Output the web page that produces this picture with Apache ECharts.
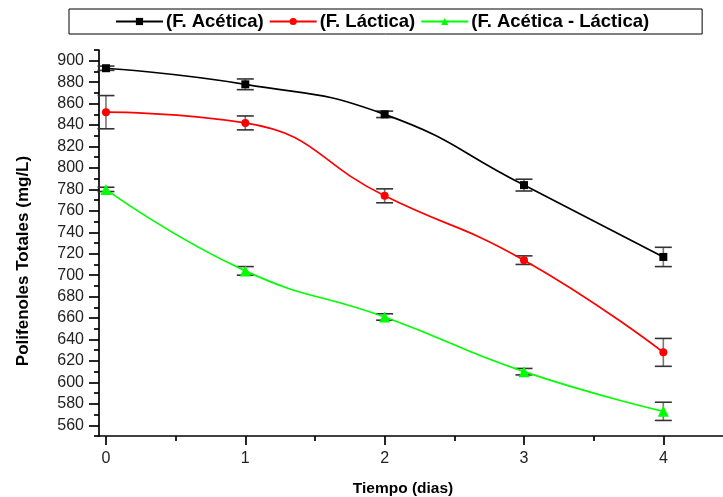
<!DOCTYPE html>
<html>
<head>
<meta charset="utf-8">
<script src="https://cdn.jsdelivr.net/npm/echarts@6/dist/echarts.min.js"></script>
<style>
  html, body { margin: 0; padding: 0; background: #fff; }
  #chart { width: 723px; height: 497px; }
</style>
</head>
<body>
<div id="chart"></div>
<script>
// Days of fermentation
const dias = [0, 1, 2, 3, 4];

// Total polyphenols (mg/L) and standard deviations
const aceticaValores = [893, 878, 850, 784, 717];
const aceticaError   = [2, 5, 3, 5.5, 9];
const lacticaValores = [852, 842, 774, 714, 628];
const lacticaError   = [15.5, 6.5, 6.5, 4, 13];
const mixtaValores   = [780, 704, 661, 610, 573];
const mixtaError     = [2, 4, 3, 3, 8.5];

const nombres = ['(F. Acética)', '(F. Láctica)', '(F. Acética - Láctica)'];
const colores = ['#000000', '#ff0000', '#00ff00'];
const simbolos = ['rect', 'circle', 'triangle'];

// Axis tick positions
const xEtiquetas = [0, 1, 2, 3, 4];
const xMenores = [0.5, 1.5, 2.5, 3.5, 4.5];
const yEtiquetas = [560, 580, 600, 620, 640, 660, 680, 700, 720, 740, 760, 780, 800, 820, 840, 860, 880, 900];
const yMenores = [550, 570, 590, 610, 630, 650, 670, 690, 710, 730, 750, 770, 790, 810, 830, 850, 870, 890, 910];

const FONT = 'Liberation Sans, Arial, sans-serif';

function pares(vals) { return dias.map((d, i) => [d, vals[i]]); }
function paresErr(vals, errs) { return dias.map((d, i) => [d, vals[i], errs[i]]); }

// Vertical error bar with caps
function barraError(params, api) {
  const x = api.value(0), y = api.value(1), e = api.value(2);
  const a = api.coord([x, y + e]);
  const b = api.coord([x, y - e]);
  const w = 8.5;
  const st = { stroke: '#777', lineWidth: 1.6 };
  const sc = { stroke: '#333', lineWidth: 1.6 };
  return {
    type: 'group',
    children: [
      { type: 'line', shape: { x1: a[0], y1: a[1], x2: b[0], y2: b[1] }, style: st },
      { type: 'line', shape: { x1: a[0] - w, y1: a[1], x2: a[0] + w, y2: a[1] }, style: sc },
      { type: 'line', shape: { x1: b[0] - w, y1: b[1], x2: b[0] + w, y2: b[1] }, style: sc }
    ]
  };
}

const valores = [aceticaValores, lacticaValores, mixtaValores];
const errores = [aceticaError, lacticaError, mixtaError];

const series = [];
valores.forEach((v, i) => {
  series.push({
    type: 'custom',
    name: nombres[i] + ' err',
    xAxisIndex: 0, yAxisIndex: 0,
    renderItem: barraError,
    data: paresErr(v, errores[i]),
    z: 1,
    silent: true
  });
});
valores.forEach((v, i) => {
  series.push({
    type: 'line',
    name: nombres[i],
    xAxisIndex: 0, yAxisIndex: 0,
    data: pares(v),
    smooth: 0.5,
    symbol: simbolos[i],
    symbolSize: i === 2 ? 11 : 8,
    showSymbol: true,
    lineStyle: { color: colores[i], width: 1.7 },
    itemStyle: { color: colores[i] },
    z: 3
  });
});

const option = {
  backgroundColor: '#fff',
  animation: false,
  grid: { left: 99, top: 50, bottom: 61, right: -10, outerBoundsMode: 'none', containLabel: false },
  legend: {
    data: nombres,
    left: 69, top: 9,
    itemWidth: 47, itemHeight: 9, itemGap: 5,
    padding: [3, 53, 3, 46],
    borderColor: '#000', borderWidth: 1,
    textStyle: { fontFamily: FONT, fontWeight: 'bold', fontSize: 18.5, lineHeight: 18, color: '#000', padding: [0, 0, 0, -2] }
  },
  xAxis: [
    {
      type: 'value', min: -0.05, max: 4.5,
      name: 'Tiempo (dias)', nameLocation: 'middle', nameGap: 45,
      nameTextStyle: { fontFamily: FONT, fontWeight: 'bold', fontSize: 15.5, color: '#000', padding: [0, 26, 0, 0] },
      axisLine: { show: true, onZero: false, lineStyle: { color: '#000', width: 1.7 } },
      axisTick: { show: true, length: 9, customValues: xEtiquetas, lineStyle: { color: '#000', width: 1.7 } },
      axisLabel: { customValues: xEtiquetas, fontFamily: FONT, fontSize: 16, color: '#222', margin: 15 },
      splitLine: { show: false }
    },
    {
      type: 'value', min: -0.05, max: 4.5, position: 'bottom',
      axisLine: { show: false, onZero: false },
      axisTick: { show: true, length: 5, customValues: xMenores, lineStyle: { color: '#000', width: 1.7 } },
      axisLabel: { show: false },
      splitLine: { show: false }
    }
  ],
  yAxis: [
    {
      type: 'value', min: 550, max: 910,
      name: 'Polifenoles Totales (mg/L)', nameLocation: 'middle', nameGap: 67,
      nameTextStyle: { fontFamily: FONT, fontWeight: 'bold', fontSize: 17, color: '#000', padding: [0, 36, 0, 0] },
      axisLine: { show: true, onZero: false, lineStyle: { color: '#000', width: 1.7 } },
      axisTick: { show: true, length: 10, customValues: yEtiquetas, lineStyle: { color: '#000', width: 1.7 } },
      axisLabel: { customValues: yEtiquetas, fontFamily: FONT, fontSize: 16, color: '#222', margin: 15 },
      splitLine: { show: false }
    },
    {
      type: 'value', min: 550, max: 910, position: 'left',
      axisLine: { show: false, onZero: false },
      axisTick: { show: true, length: 5, customValues: yMenores, lineStyle: { color: '#000', width: 1.7 } },
      axisLabel: { show: false },
      splitLine: { show: false }
    }
  ],
  series: series
};

const chart = echarts.init(document.getElementById('chart'), null, { renderer: 'canvas' });
chart.setOption(option);
</script>
</body>
</html>
